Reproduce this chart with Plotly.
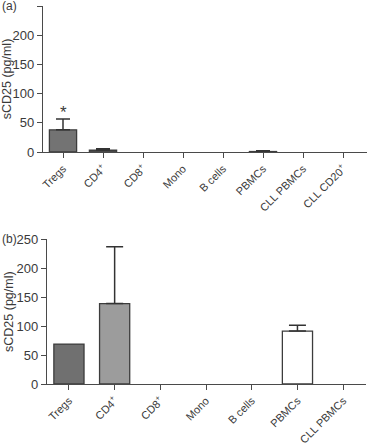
import plotly.graph_objects as go

# Panel (a)
cats_a = ["Tregs", "CD4+", "CD8+", "Mono", "B cells", "PBMCs", "CLL PBMCs", "CLL CD20+"]
labels_a = ["Tregs", "CD4<sup>+</sup>", "CD8<sup>+</sup>", "Mono", "B cells", "PBMCs", "CLL PBMCs", "CLL CD20<sup>+</sup>"]
vals_a = [38, 3, 0, 0, 0, 0.8, 0, 0]
err_a = [18.5, 2.5, None, None, None, 1.2, None, None]

# Panel (b)
cats_b = ["Tregs", "CD4+", "CD8+", "Mono", "B cells", "PBMCs", "CLL PBMCs"]
labels_b = ["Tregs", "CD4<sup>+</sup>", "CD8<sup>+</sup>", "Mono", "B cells", "PBMCs", "CLL PBMCs"]
vals_b = [69, 139, 0, 0, 0, 91.5, 0]
err_b = [None, 98, None, None, None, 10, None]

yticks = [0, 50, 100, 150, 200, 250]

colors_a = ["#737373", "#737373", "#737373", "#737373", "#737373", "#ffffff", "#ffffff", "#ffffff"]
colors_b = ["#707070", "#9c9c9c", "#9c9c9c", "#9c9c9c", "#9c9c9c", "#ffffff", "#ffffff"]

W, H = 368, 445
FONT = "Liberation Sans, Arial, Helvetica, sans-serif"
AX = "#4a4a4a"
TXT = "#3a3a3a"


def line_widths(vals):
    return [1.3 if v > 0 else 0 for v in vals]


def with_err(cats, vals, errs):
    idx = [i for i, e in enumerate(errs) if e is not None]
    return [cats[i] for i in idx], [vals[i] for i in idx], [errs[i] for i in idx]


fig = go.Figure()
for cats, vals, errs, colors, xa, ya, bw, cap in [
    (cats_a, vals_a, err_a, colors_a, "x", "y", 0.68, 7),
    (cats_b, vals_b, err_b, colors_b, "x2", "y2", 0.66, 8.5),
]:
    fig.add_trace(go.Bar(
        x=cats, y=vals, xaxis=xa, yaxis=ya, width=bw,
        marker=dict(color=colors, line=dict(color="#3c3c3c", width=line_widths(vals))),
        showlegend=False, hoverinfo="skip"))
    ex, ev, ee = with_err(cats, vals, errs)
    fig.add_trace(go.Scatter(
        x=ex, y=ev, xaxis=xa, yaxis=ya, mode="markers",
        marker=dict(size=1, color="rgba(0,0,0,0)"),
        error_y=dict(type="data", array=ee, arrayminus=[0] * len(ee), symmetric=False,
                     color="#333333", thickness=1.5, width=cap),
        showlegend=False, hoverinfo="skip"))

common_x = dict(showline=True, linecolor=AX, linewidth=1.2, ticks="outside", ticklen=5,
                tickcolor=AX, tickwidth=1.2, tickangle=-45, showgrid=False, zeroline=False,
                automargin=False,
                tickfont=dict(family=FONT, size=11, color=TXT), fixedrange=True)
common_y = dict(showline=True, linecolor=AX, linewidth=1.2, ticks="outside", ticklen=5,
                tickcolor=AX, tickwidth=1.2, showgrid=False, zeroline=False,
                automargin=False,
                tickvals=yticks, range=[0, 250],
                tickfont=dict(family=FONT, size=13, color=TXT), fixedrange=True,
                title=dict(text="sCD25 (pg/ml)", font=dict(family=FONT, size=12.5, color=TXT), standoff=0))

fig.update_layout(
    width=W, height=H, margin=dict(l=0, r=0, t=0, b=0, autoexpand=False),
    paper_bgcolor="white", plot_bgcolor="white",
    xaxis=dict(domain=[43 / W, 367 / W], anchor="y", range=[-0.5, 7.6],
               tickvals=cats_a, ticktext=labels_a, type="category", **common_x),
    yaxis=dict(domain=[1 - 152 / H, 1 - 6 / H], anchor="x", **common_y),
    xaxis2=dict(domain=[47 / W, 366 / W], anchor="y2", range=[-0.48, 6.5],
                tickvals=cats_b, ticktext=labels_b, type="category", **common_x),
    yaxis2=dict(domain=[1 - 384 / H, 1 - 239.3 / H], anchor="x2", **common_y),
    annotations=[
        dict(text="(a)", x=0, y=1 - 6 / H, xref="paper", yref="paper", xanchor="left",
             yanchor="middle", showarrow=False, font=dict(family=FONT, size=12, color=TXT)),
        dict(text="(b)", x=0, y=1 - 239.3 / H, xref="paper", yref="paper", xanchor="left",
             yanchor="middle", showarrow=False, font=dict(family=FONT, size=12, color=TXT)),
        dict(text="*", x="Tregs", y=68, xref="x", yref="y", showarrow=False,
             yanchor="middle", font=dict(family=FONT, size=17, color=TXT)),
    ],
)

fig.write_html("out.html", config={"displayModeBar": False},
               post_script="document.body.style.margin='0';document.body.style.overflow='hidden';")
